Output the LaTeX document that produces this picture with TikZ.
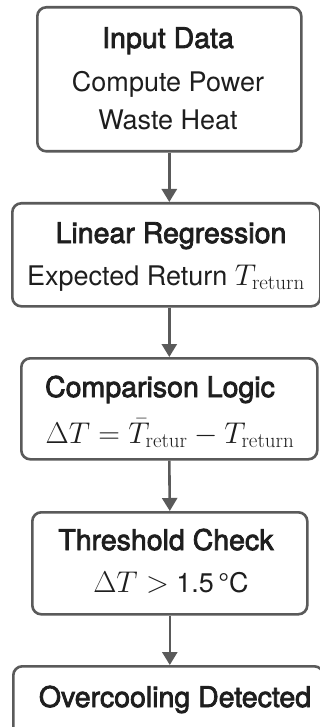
\RequirePackage{fix-cm}
\documentclass[tikz,border=0pt]{standalone}
\usepackage[no-math]{fontspec}
\setmainfont{TeX Gyre Heros}
\newfontfamily\medfont[FakeBold=2.6]{TeX Gyre Heros}
\usetikzlibrary{arrows.meta}
\definecolor{linegray}{HTML}{5A5A5A}
\definecolor{textdark}{HTML}{1E1E1E}
\newcommand{\mathbig}{\fontsize{30}{32}\selectfont}
\begin{document}
\begin{tikzpicture}[x=1pt,y=-1pt,
  box/.style={draw=linegray, line width=2.6pt, rounded corners=9pt, inner sep=0pt, anchor=north west},
  lbl/.style={anchor=base, inner sep=0pt, text=textdark, font=\fontsize{27}{30}\selectfont},
  ttl/.style={lbl, font=\medfont\fontsize{28.5}{30}\selectfont},
  arr/.style={draw=linegray, line width=2.6pt, -{Triangle[length=13pt,width=15pt]}}]
\useasboundingbox (0,0) rectangle (320,727);
\fill[white] (0,0) rectangle (320,727);
% boxes
\node[box, minimum width=264pt, minimum height=144pt] (b1) at (36,6) {};
\node[box, minimum width=308pt, minimum height=103pt] (b2) at (11,202) {};
\node[box, minimum width=296pt, minimum height=101pt] (b3) at (20,357) {};
\node[box, minimum width=275pt, minimum height=102pt] (b4) at (31,511) {};
\node[box, minimum width=310pt, minimum height=100pt] (b5) at (12,665) {};
% texts
\node[ttl] (t1a) at (168,48) {Input Data};
\node[lbl] (t1b) at (168,92) {Compute Power};
\node[lbl] (t1c) at (168,130) {Waste Heat};
\node[ttl] (t2a) at (171,243) {Linear Regression};
\node[lbl] (t2b) at (166,285) {Expected Return {\mathbig$T_{\mathrm{return}}$}};
\node[ttl] (t3a) at (160,397) {Comparison Logic};
\node[lbl] (t3b) at (170,443) {\mathbig$\Delta T = \bar{T}_{\mathrm{retur}} - T_{\mathrm{return}}$};
\node[ttl] (t4a) at (166,550) {Threshold Check};
\node[lbl] (t4b) at (171,592) {{\mathbig$\Delta T >$} 1.5\,°C};
\node[ttl] (t5a) at (175,707) {Overcooling Detected};
% arrows
\draw[arr] (b1.south) -- (b1.south |- b2.north);
\draw[arr] (b1.south |- b2.south) -- (b1.south |- b3.north);
\draw[arr] (b3.south) -- (b4.north);
\draw[arr] (b4.south) -- (b4.south |- b5.north);
\end{tikzpicture}
\end{document}
